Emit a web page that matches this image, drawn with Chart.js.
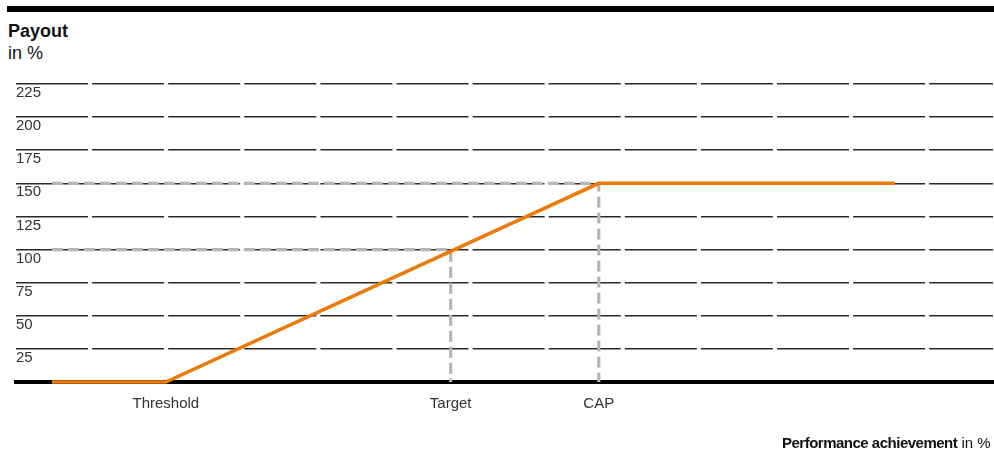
<!DOCTYPE html>
<html>
<head>
<meta charset="utf-8">
<script src="https://cdn.jsdelivr.net/npm/chart.js@4/dist/chart.umd.min.js"></script>
<style>
  html, body { margin:0; padding:0; background:#fff; }
  body { width:994px; height:450px; position:relative; overflow:hidden; font-family:"Liberation Sans", Arial, sans-serif; color:#111; }
  #topBar { position:absolute; left:7px; right:0; top:6px; height:6px; background:#000; }
  #title { position:absolute; left:8px; top:20px; font-size:18px; line-height:22px; }
  #title b { font-weight:bold; }
  #xTitle { position:absolute; left:782px; top:435px; font-size:15px; line-height:15px; white-space:nowrap; }
  #xTitle b { letter-spacing:-0.5px; }
  #wrap { position:absolute; left:0; top:0; width:994px; height:450px; }
</style>
</head>
<body>
<div id="topBar"></div>
<div id="title"><b>Payout</b><br>in %</div>
<div id="wrap"><canvas id="chart"></canvas></div>
<div id="xTitle"><b>Performance achievement</b> in %</div>

<script>
// ----- data -----
const milestoneNames = ["Threshold", "Target", "CAP"];
const milestoneAchievement = [50, 100, 126];   // x position of each milestone
const milestonePayout = [0, 100, 150];         // payout % at each milestone

const curveAchievement = [30, 50, 126, 178];
const curvePayout = [0, 0, 150, 150];

const guideStart = 30;                         // dashed guides start at left of curve
const yMin = 0, yMax = 225, yStep = 25;
const xMin = 23.7, xMax = 195.2;

// ----- build datasets -----
const curve = curveAchievement.map((x, i) => ({ x, y: curvePayout[i] }));
function guide(i){
  return [
    { x: guideStart, y: milestonePayout[i] },
    { x: milestoneAchievement[i], y: milestonePayout[i] },
    { x: milestoneAchievement[i], y: 0 }
  ];
}

const ORANGE = "#ec7a08";
const GREY = "#b5b5b5";

new Chart(document.getElementById("chart"), {
  type: "line",
  data: {
    datasets: [
      { data: curve, borderColor: ORANGE, borderWidth: 3.5, pointRadius: 0, tension: 0, clip: false },
      { data: guide(2), borderColor: GREY, borderWidth: 3.2, borderDash: [11, 5], pointRadius: 0, clip: false },
      { data: guide(1), borderColor: GREY, borderWidth: 3.2, borderDash: [11, 5], pointRadius: 0, clip: false }
    ]
  },
  options: {
    responsive: true,
    maintainAspectRatio: false,
    animation: false,
    layout: { padding: { left: 16, right: 1, top: 84, bottom: 24 } },
    plugins: { legend: { display: false }, tooltip: { enabled: false } },
    scales: {
      x: {
        type: "linear",
        min: xMin, max: xMax,
        grid: { display: false, drawTicks: false },
        border: { display: true, color: "#000", width: 4 },
        afterBuildTicks: axis => { axis.ticks = milestoneAchievement.map(v => ({ value: v })); },
        ticks: {
          autoSkip: false, maxRotation: 0, padding: 13,
          color: "#333",
          font: { family: "'Liberation Sans', Arial, sans-serif", size: 15 },
          callback: (v, i) => milestoneNames[i]
        }
      },
      y: {
        min: yMin, max: yMax,
        grid: { color: "#2a2a2a", lineWidth: 1.6, drawTicks: false },
        border: { display: false, dash: [72, 4.1] },
        ticks: {
          stepSize: yStep, mirror: true, padding: 0, labelOffset: 9,
          color: "#333",
          font: { family: "'Liberation Sans', Arial, sans-serif", size: 15 },
          callback: v => v === 0 ? "" : String(v)
        }
      }
    }
  }
});
</script>
</body>
</html>
